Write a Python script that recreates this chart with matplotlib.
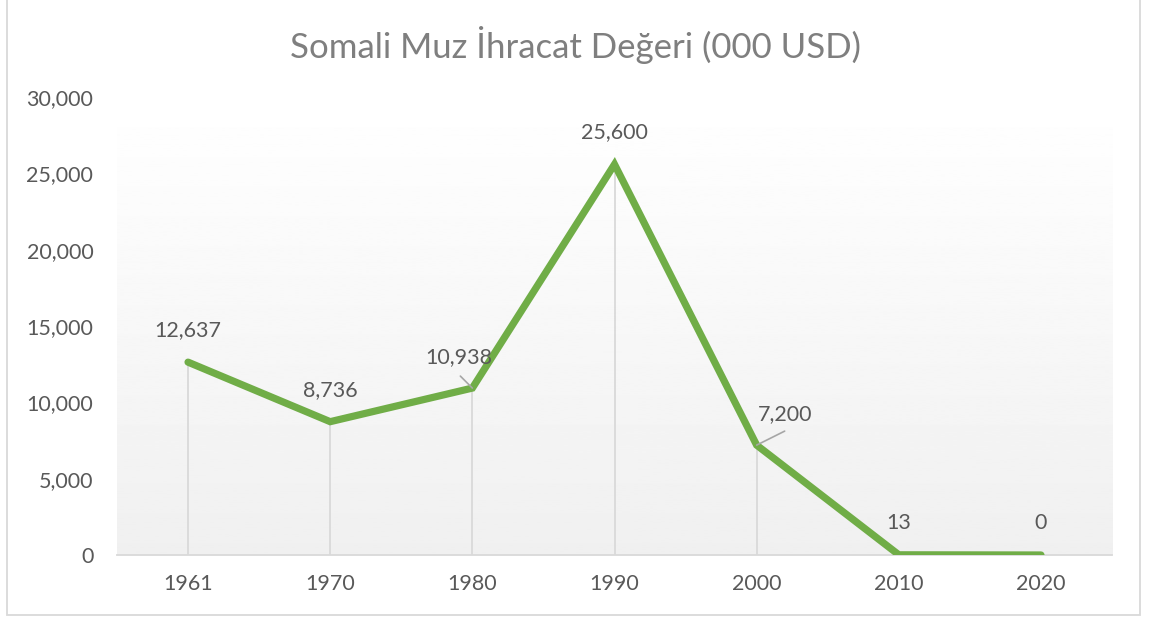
import matplotlib.pyplot as plt
import numpy as np
from matplotlib.patches import Rectangle

years = ["1961", "1970", "1980", "1990", "2000", "2010", "2020"]
values = [12637, 8736, 10938, 25600, 7200, 13, 0]
labels = ["12,637", "8,736", "10,938", "25,600", "7,200", "13", "0"]

plt.rcParams['font.family'] = ['Lato', 'DejaVu Sans']
txt = "#595959"

fig = plt.figure(figsize=(11.5, 6.19), dpi=100)
ax = fig.add_axes([0.1017, 0.1034, 0.8653, 0.7396])

x = np.arange(len(years))
ax.set_xlim(-0.5, len(years) - 0.5)
ax.set_ylim(0, 30000)

# gradient plot area
grad = np.linspace(1.0, 0.94, 256).reshape(-1, 1)
ax.imshow(grad, cmap="gray", vmin=0, vmax=1, aspect="auto",
          extent=[-0.5, len(years) - 0.5, 0, 30000], origin="upper", zorder=0)

ax.vlines(x, 0, values, color="#D9D9D9", lw=1.3, zorder=1)
ax.plot(x, values, color="#70AD47", lw=5.2, solid_capstyle="round",
        solid_joinstyle="miter", zorder=3)

offsets = {0: (0, 32), 1: (0, 32), 2: (-14, 31), 3: (0, 32), 4: (28, 31), 5: (0, 32), 6: (0, 32)}
for i, (v, lab) in enumerate(zip(values, labels)):
    dx, dy = offsets[i]
    ax.annotate(lab, (x[i], v), xytext=(dx, dy), textcoords="offset pixels",
                ha="center", va="center", fontsize=15.5, color=txt, zorder=4)

# leader lines
ax.annotate("", (x[2], values[2]), xytext=(-12, 12), textcoords="offset pixels",
            arrowprops=dict(arrowstyle="-", color="#A6A6A6", lw=1.2, shrinkA=0, shrinkB=0))
ax.annotate("", (x[4], values[4]), xytext=(28, 14), textcoords="offset pixels",
            arrowprops=dict(arrowstyle="-", color="#A6A6A6", lw=1.2, shrinkA=0, shrinkB=0))

ax.set_xticks(x)
ax.set_xticklabels(years)
ax.set_yticks(np.arange(0, 30001, 5000))
ax.set_yticklabels([f"{t:,}" for t in range(0, 30001, 5000)])
ax.tick_params(axis="both", length=0, labelsize=15.5, labelcolor=txt)
ax.tick_params(axis="x", pad=14)
ax.tick_params(axis="y", pad=17)
for s in ["top", "right", "left"]:
    ax.spines[s].set_visible(False)
ax.spines["bottom"].set_color("#D9D9D9")
ax.spines["bottom"].set_linewidth(1.3)

fig.text(0.5, 0.928, "Somali Muz İhracat Değeri (000 USD)", ha="center", va="center",
         fontsize=25, color="#7F7F7F")

fig.patches.append(Rectangle((7 / 1150, 4 / 619), 1133 / 1150, 616 / 619,
                             transform=fig.transFigure, fill=False,
                             edgecolor="#D9D9D9", lw=1.3))

fig.savefig("out.png", dpi=100)
